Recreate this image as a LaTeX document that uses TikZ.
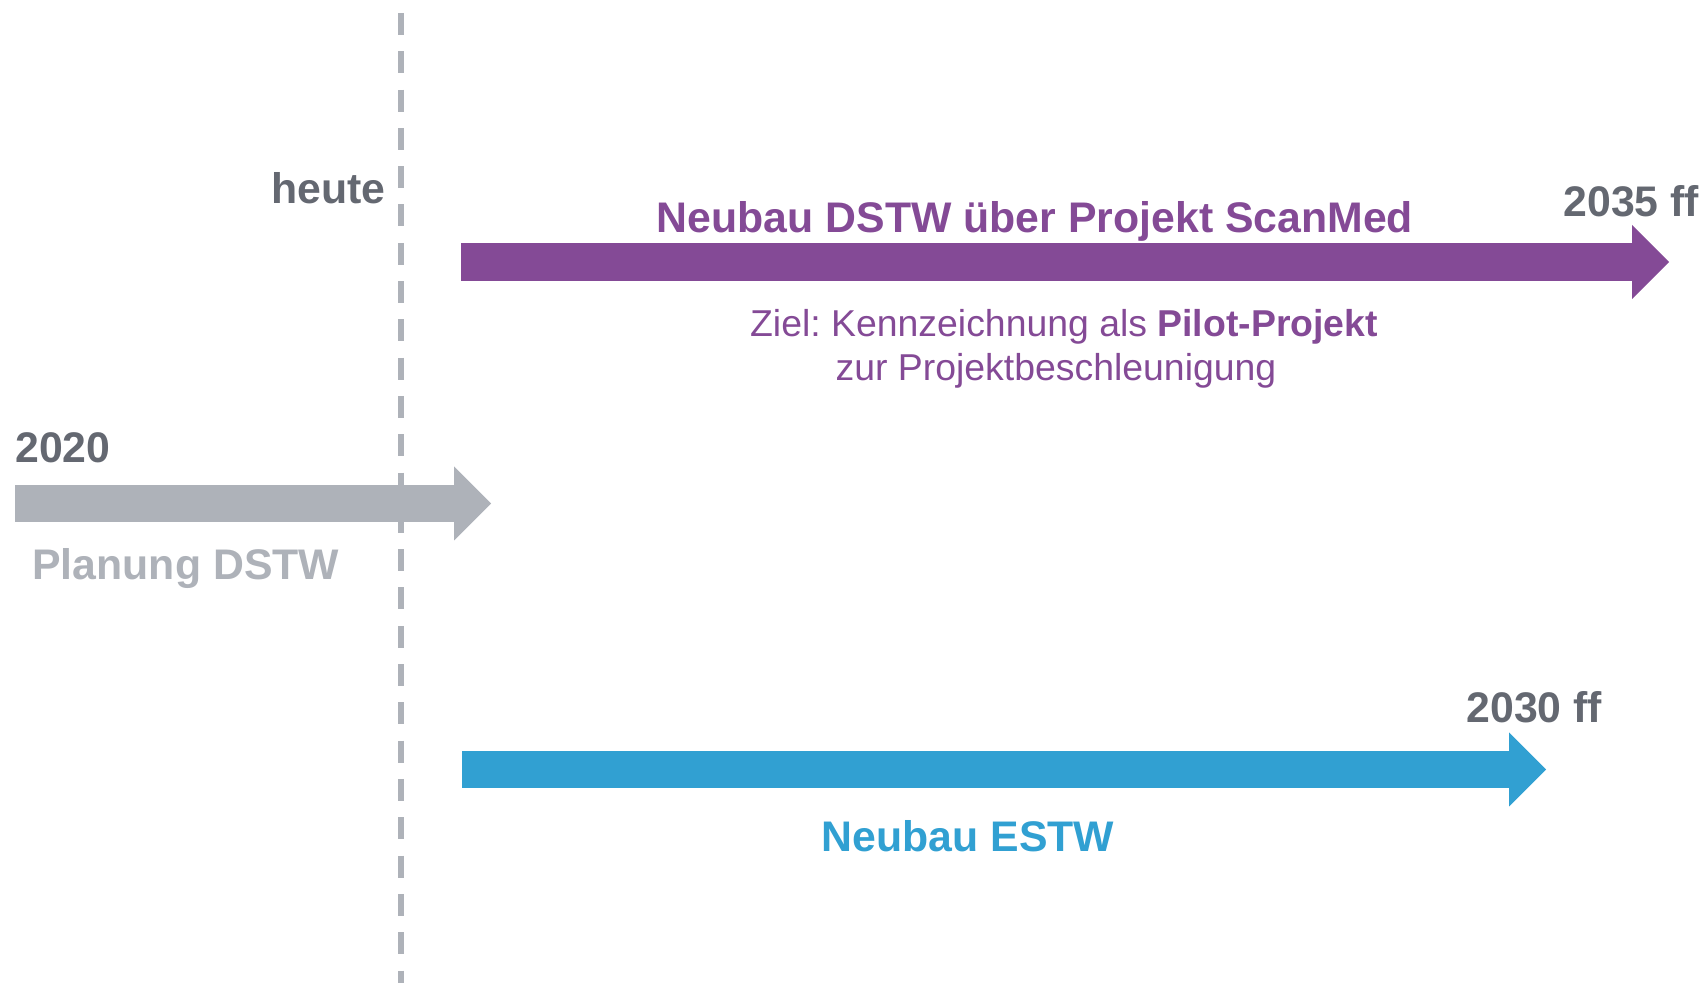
\documentclass[tikz,border=0pt]{standalone}
\usepackage{fontspec}
\setmainfont{Liberation Sans}
\usepackage{tikz}
\usetikzlibrary{arrows.meta, positioning}
\definecolor{planGray}{HTML}{AEB2B9}
\definecolor{yearGray}{HTML}{646871}
\definecolor{dstwPurple}{HTML}{844A96}
\definecolor{estwBlue}{HTML}{31A0D2}
\frenchspacing

\begin{document}
\begin{tikzpicture}[x=0.5pt, y=-0.5pt,
    bararrow/.style 2 args={line width=#1, -{Triangle[length=18.5pt, width=#2, line width=0pt]}},
    yeartext/.style={text=yearGray, inner sep=0pt, font=\bfseries\fontsize{21.4}{26}\selectfont},
    titletext/.style={inner sep=0pt, font=\bfseries\fontsize{21.4}{26}\selectfont},
    zieltext/.style={inner sep=0pt, text=dstwPurple, font=\fontsize{18.7}{22}\selectfont}]
    \useasboundingbox (0,0) rectangle (1704,983);

    \coordinate (dS) at (461,262);   % Neubau DSTW
    \coordinate (dE) at (1669,262);
    \coordinate (pS) at (15,503.5);  % Planung
    \coordinate (pE) at (491,503.5);
    \coordinate (eS) at (462,769.5); % Neubau ESTW
    \coordinate (eE) at (1546,769.5);
    \coordinate (todayTop) at (401,13);
    \coordinate (todayBot) at (401,983);

    \draw[bararrow={19pt}{37pt}, dstwPurple] (dS) -- (dE);
    \draw[bararrow={18.5pt}{37pt}, planGray] (pS) -- (pE);
    \draw[bararrow={18.5pt}{37pt}, estwBlue] (eS) -- (eE);

    \draw[planGray, line width=3pt, dash pattern=on 11pt off 8.15pt] (todayTop) -- (todayBot);

    \node[yeartext, anchor=base east] (heute) at (386,204) {heute};
    \node[yeartext, anchor=base west] (y2035) at (1563,217) {2035 ff};
    \node[yeartext, anchor=base west] (y2020) at (15,463) {2020};
    \node[yeartext, anchor=base west] (y2030) at (1466,723) {2030 ff};

    \node[titletext, text=dstwPurple, anchor=base] (dstw) at (1035,233) {Neubau DSTW über Projekt ScanMed};
    \node[titletext, text=planGray, anchor=base west] (plan) at (32,580) {Planung DSTW};
    \node[titletext, text=estwBlue, anchor=base] (estw) at (968,852) {Neubau ESTW};

    \node[zieltext, anchor=base] (zielA) at (1064,337) {Ziel: Kennzeichnung als \textbf{Pilot-Projekt}};
    \node[zieltext, anchor=base] (zielB) at (1056,381) {zur Projektbeschleunigung};
\end{tikzpicture}
\end{document}
